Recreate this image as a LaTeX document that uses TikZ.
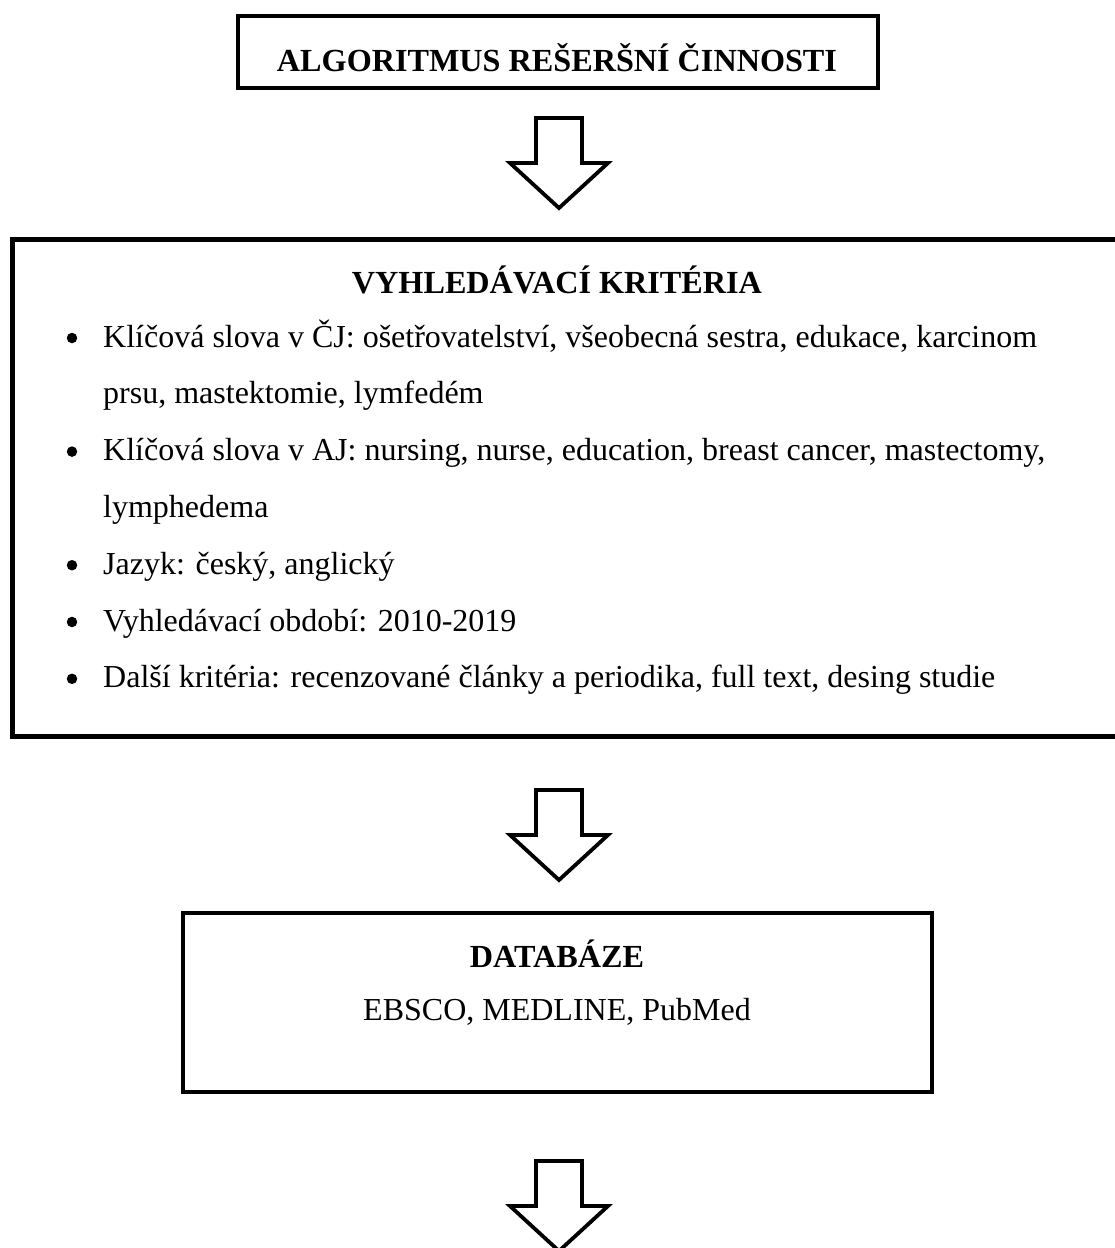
\documentclass[tikz,border=0pt]{standalone}
\usepackage{fontspec}
\setmainfont{Liberation Serif}
\begin{document}
\begin{tikzpicture}[x=1pt,y=-1pt,
  box/.style={draw, line width=4pt, inner sep=0pt, outer sep=0pt, anchor=north west, line join=miter},
  head/.style={inner sep=0pt, anchor=base, font=\bfseries\fontsize{32.2}{38}\selectfont},
  body/.style={inner sep=0pt, anchor=base west, font=\fontsize{32}{38}\selectfont},
  bodyc/.style={inner sep=0pt, anchor=base, font=\fontsize{32}{38}\selectfont},
  bul/.style={circle, fill=black, inner sep=0pt, minimum size=10.5pt},
  blockarrow/.pic={\draw[line width=3.8pt, line join=miter]
     (-23,0) -- (23,0) -- (23,45) -- (49,45) -- (0,90) -- (-49,45) -- (-23,45) -- cycle;}
]
\useasboundingbox (0,0) rectangle (1115,1248);
\clip (0,0) rectangle (1115,1248);
\fill[white] (0,0) rectangle (1115,1248);

% top box
\node[box, minimum width=640pt, minimum height=72pt] (topbox) at (238,16) {};
\node[head] (title) at (557,71) {ALGORITMUS REŠERŠNÍ ČINNOSTI};

\pic at (559,118) {blockarrow};

% criteria box (right side runs past the page)
\node[box, line width=5pt, minimum width=1130pt, minimum height=497pt] (critbox) at (12,239) {};
\node[head] (crithead) at (557,293) {VYHLEDÁVACÍ KRITÉRIA};

\node[bul] (b1) at (72,338) {};
\node[body] (l1) at (103,347) {Klíčová slova v ČJ: ošetřovatelství, všeobecná sestra, edukace, karcinom};
\node[body] (l2) at (103,403.8) {prsu, mastektomie, lymfedém};
\node[bul] (b2) at (72,451.6) {};
\node[body] (l3) at (103,460.6) {Klíčová slova v AJ: nursing, nurse, education, breast cancer, mastectomy,};
\node[body] (l4) at (103,517.4) {lymphedema};
\node[bul] (b3) at (72,565.2) {};
\node[body] (l5) at (103,574.2) {Jazyk: český, anglický};
\node[bul] (b4) at (72,622) {};
\node[body] (l6) at (103,631) {Vyhledávací období: 2010-2019};
\node[bul] (b5) at (72,678.8) {};
\node[body] (l7) at (103,687.8) {Další kritéria: recenzované články a periodika, full text, desing studie};

\pic at (559,790) {blockarrow};

% database box
\node[box, minimum width=749pt, minimum height=179pt] (dbbox) at (183,913) {};
\node[head] (dbhead) at (557,967) {DATABÁZE};
\node[bodyc] (dbtext) at (557,1020) {EBSCO, MEDLINE, PubMed};

\pic at (559,1161) {blockarrow};
\end{tikzpicture}
\end{document}
